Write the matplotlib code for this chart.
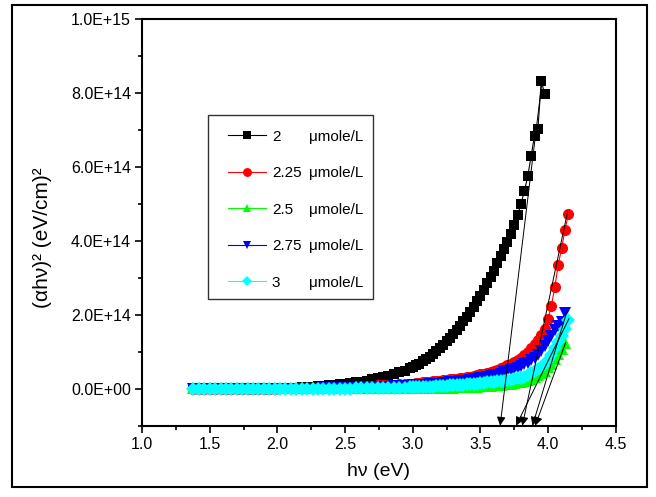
import matplotlib
matplotlib.use("Agg")
import matplotlib.pyplot as plt
import matplotlib.ticker as mticker
from matplotlib.patches import Rectangle
import numpy as np

plt.rcParams["font.family"] = ["Liberation Sans", "DejaVu Sans"]

# photon energy grid (eV)
hv = [1.38, 1.42, 1.46, 1.50, 1.54, 1.58, 1.62, 1.66, 1.70, 1.74, 1.78, 1.82, 1.86, 1.90,
      1.94, 1.98, 2.02, 2.06, 2.10, 2.14, 2.18, 2.22, 2.26, 2.30, 2.34, 2.38, 2.42, 2.46,
      2.50, 2.54, 2.58, 2.62, 2.66, 2.70, 2.74, 2.78, 2.82, 2.86, 2.90, 2.94, 2.98,
      3.000, 3.025, 3.050, 3.075, 3.100, 3.125, 3.150, 3.175, 3.200, 3.225, 3.250, 3.275,
      3.300, 3.325, 3.350, 3.375, 3.400, 3.425, 3.450, 3.475, 3.500, 3.525, 3.550, 3.575,
      3.600, 3.625, 3.650, 3.675, 3.700, 3.725, 3.750, 3.775, 3.800, 3.825, 3.850, 3.875,
      3.900, 3.925, 3.950, 3.975, 4.000, 4.025, 4.050, 4.075, 4.100, 4.125, 4.150]

# (alpha*hv)^2 in units of 1e14 (eV/cm)^2
y_2 = [0.00] * 16 + [
    0.02, 0.02, 0.03, 0.03, 0.04, 0.05, 0.06, 0.07, 0.08, 0.09, 0.10, 0.12, 0.13, 0.15,
    0.17, 0.19, 0.22, 0.25, 0.28, 0.31, 0.35, 0.39, 0.44, 0.49, 0.55,
    0.58, 0.63, 0.68, 0.74, 0.80, 0.87, 0.94, 1.02, 1.10, 1.19, 1.28, 1.38, 1.48, 1.59,
    1.70, 1.82, 1.95, 2.08, 2.22, 2.37, 2.52, 2.68, 2.85, 3.02, 3.20, 3.39, 3.58, 3.78,
    3.98, 4.20, 4.43, 4.70, 5.00, 5.35, 5.75, 6.30, 6.85, 7.03, 8.34, 7.97,
    None, None, None, None, None, None, None]
y_225 = [0.00] * 16 + [
    0.01, 0.01, 0.01, 0.02, 0.02, 0.02, 0.03, 0.03, 0.03, 0.04, 0.04, 0.05, 0.05, 0.06,
    0.06, 0.07, 0.07, 0.08, 0.09, 0.09, 0.10, 0.11, 0.12, 0.13, 0.14,
    0.14, 0.15, 0.16, 0.17, 0.18, 0.19, 0.20, 0.21, 0.22, 0.23, 0.24, 0.25, 0.26, 0.27,
    0.29, 0.30, 0.32, 0.33, 0.35, 0.37, 0.39, 0.41, 0.43, 0.46, 0.49, 0.52, 0.55, 0.59,
    0.63, 0.67, 0.72, 0.78, 0.84, 0.92, 1.00, 1.10, 1.20, 1.32, 1.45, 1.62, 1.90, 2.25,
    2.75, 3.35, 3.80, 4.30, 4.72]
y_25 = [0.01] * 16 + [
    0.01, 0.01, 0.01, 0.01, 0.01, 0.01, 0.01, 0.01, 0.01, 0.01, 0.01, 0.01, 0.01, 0.01,
    0.01, 0.01, 0.01, 0.01, 0.01, 0.01, 0.01, 0.01, 0.01, 0.01, 0.01,
    0.01, 0.01, 0.01, 0.01, 0.02, 0.02, 0.02, 0.02, 0.02, 0.03, 0.03, 0.03, 0.03, 0.04,
    0.04, 0.04, 0.05, 0.05, 0.06, 0.06, 0.07, 0.07, 0.08, 0.08, 0.09, 0.10, 0.11, 0.12,
    0.13, 0.14, 0.15, 0.17, 0.19, 0.21, 0.24, 0.27, 0.31, 0.36, 0.42, 0.49, 0.58, 0.68,
    0.80, 0.93, 1.08, 1.23, None]
y_275 = [-0.02] * 16 + [
    -0.02, -0.02, -0.01, -0.01, -0.01, 0.00, 0.00, 0.00, 0.01, 0.01, 0.01, 0.02, 0.02,
    0.03, 0.03, 0.04, 0.04, 0.05, 0.05, 0.06, 0.06, 0.07, 0.07, 0.08, 0.08,
    0.09, 0.09, 0.10, 0.10, 0.11, 0.12, 0.12, 0.13, 0.14, 0.15, 0.16, 0.17, 0.18, 0.19,
    0.20, 0.21, 0.22, 0.24, 0.25, 0.27, 0.28, 0.30, 0.32, 0.34, 0.36, 0.38, 0.41, 0.44,
    0.47, 0.50, 0.53, 0.57, 0.61, 0.66, 0.71, 0.77, 0.82, 0.90, 1.02, 1.15, 1.30, 1.42,
    1.58, 1.70, 1.80, 2.05, None]
y_3 = [-0.02] * 16 + [
    -0.02, -0.02, -0.02, -0.02, -0.01, -0.01, -0.01, -0.01, -0.01, 0.00, 0.00, 0.00,
    0.00, 0.00, 0.01, 0.01, 0.01, 0.01, 0.02, 0.02, 0.02, 0.03, 0.03, 0.03, 0.04,
    0.04, 0.04, 0.05, 0.05, 0.05, 0.06, 0.06, 0.07, 0.07, 0.08, 0.08, 0.09, 0.09, 0.10,
    0.10, 0.11, 0.12, 0.12, 0.13, 0.14, 0.15, 0.16, 0.17, 0.18, 0.19, 0.20, 0.21, 0.22,
    0.23, 0.24, 0.26, 0.28, 0.30, 0.33, 0.37, 0.42, 0.47, 0.53, 0.60, 0.68, 0.78, 0.92,
    1.10, 1.26, 1.42, 1.63, 1.85]

labels = ["2", "2.25", "2.5", "2.75", "3"]
series = [y_2, y_225, y_25, y_275, y_3]
colors = ["black", "red", "#00ff00", "blue", "cyan"]
markers = ["s", "o", "^", "v", "D"]
msizes = [7.5, 8, 8, 8, 7]

# tangent extrapolations: (hv_top, y_top) -> band-gap intercept on the bottom axis
fit_top_hv = [3.96, 4.145, 4.13, 4.14, 4.155]
fit_top_y = [8.45, 4.8, 1.25, 2.1, 1.9]
fit_gap = [3.646, 3.81, 3.905, 3.885, 3.764]

fig = plt.figure(figsize=(6.56, 4.97), dpi=100)
ax = fig.add_axes([0.2165, 0.1435, 0.7221, 0.8177])

hv_arr = np.array(hv)
for vals, lab, col, mk, ms in zip(series, labels, colors, markers, msizes):
    v = np.array([np.nan if x is None else x for x in vals], dtype=float) * 1e14
    ax.plot(hv_arr, v, color=col, marker=mk, markersize=ms, linewidth=0.8,
            markeredgewidth=0, label=lab)

ymin = -1e14
for x0, y0, xg in zip(fit_top_hv, fit_top_y, fit_gap):
    ax.annotate("", xy=(xg, ymin), xytext=(x0, y0 * 1e14),
                arrowprops=dict(arrowstyle="-|>", color="black", lw=0.7,
                                mutation_scale=13, shrinkA=0, shrinkB=0))

ax.set_xlim(1.0, 4.5)
ax.set_ylim(ymin, 1e15)
ax.xaxis.set_major_locator(mticker.MultipleLocator(0.5))
ax.xaxis.set_minor_locator(mticker.MultipleLocator(0.25))
ax.yaxis.set_major_locator(mticker.FixedLocator([0, 2e14, 4e14, 6e14, 8e14, 1e15]))
ax.yaxis.set_minor_locator(mticker.MultipleLocator(1e14))
ax.xaxis.set_major_formatter(mticker.FormatStrFormatter("%.1f"))
ax.yaxis.set_major_formatter(mticker.FuncFormatter(lambda v, p: f"{v:.1E}"))
ax.tick_params(which="both", direction="out", top=False, right=False,
               labelsize=11.5, width=1.2)
ax.tick_params(which="major", length=5, pad=3)
ax.tick_params(which="minor", length=3)
for s in ax.spines.values():
    s.set_linewidth(1.5)

ax.set_xlabel("hν (eV)", fontsize=14, labelpad=8)
ax.set_ylabel("(αhν)² (eV/cm)²", fontsize=15)
ax.yaxis.set_label_coords(-0.19, 0.462)

leg = ax.legend(loc="upper left", bbox_to_anchor=(0.182, 0.728), frameon=False,
                fontsize=11, handlelength=2.5, handletextpad=0.35,
                labelspacing=1.47, borderaxespad=0, borderpad=0, markerscale=0.8)
legend_box = Rectangle((0.139, 0.312), 0.348, 0.4525, transform=ax.transAxes,
                       fill=False, edgecolor="#333333", linewidth=1.0)
ax.add_patch(legend_box)

fig.canvas.draw()
# unit column, aligned after the concentration values
for t in leg.get_texts():
    bb = t.get_window_extent()
    yc = (bb.y0 + bb.y1) / 2
    xa, ya = ax.transAxes.inverted().transform((0, yc))
    ax.text(0.3525, ya, "μmole/L", transform=ax.transAxes, fontsize=11,
            va="center", ha="left")

fig.add_artist(Rectangle((12 / 656, 10 / 497), 635 / 656, 482 / 497,
                         transform=fig.transFigure, fill=False,
                         edgecolor="black", linewidth=1.5))

fig.savefig("out.png", dpi=100)
